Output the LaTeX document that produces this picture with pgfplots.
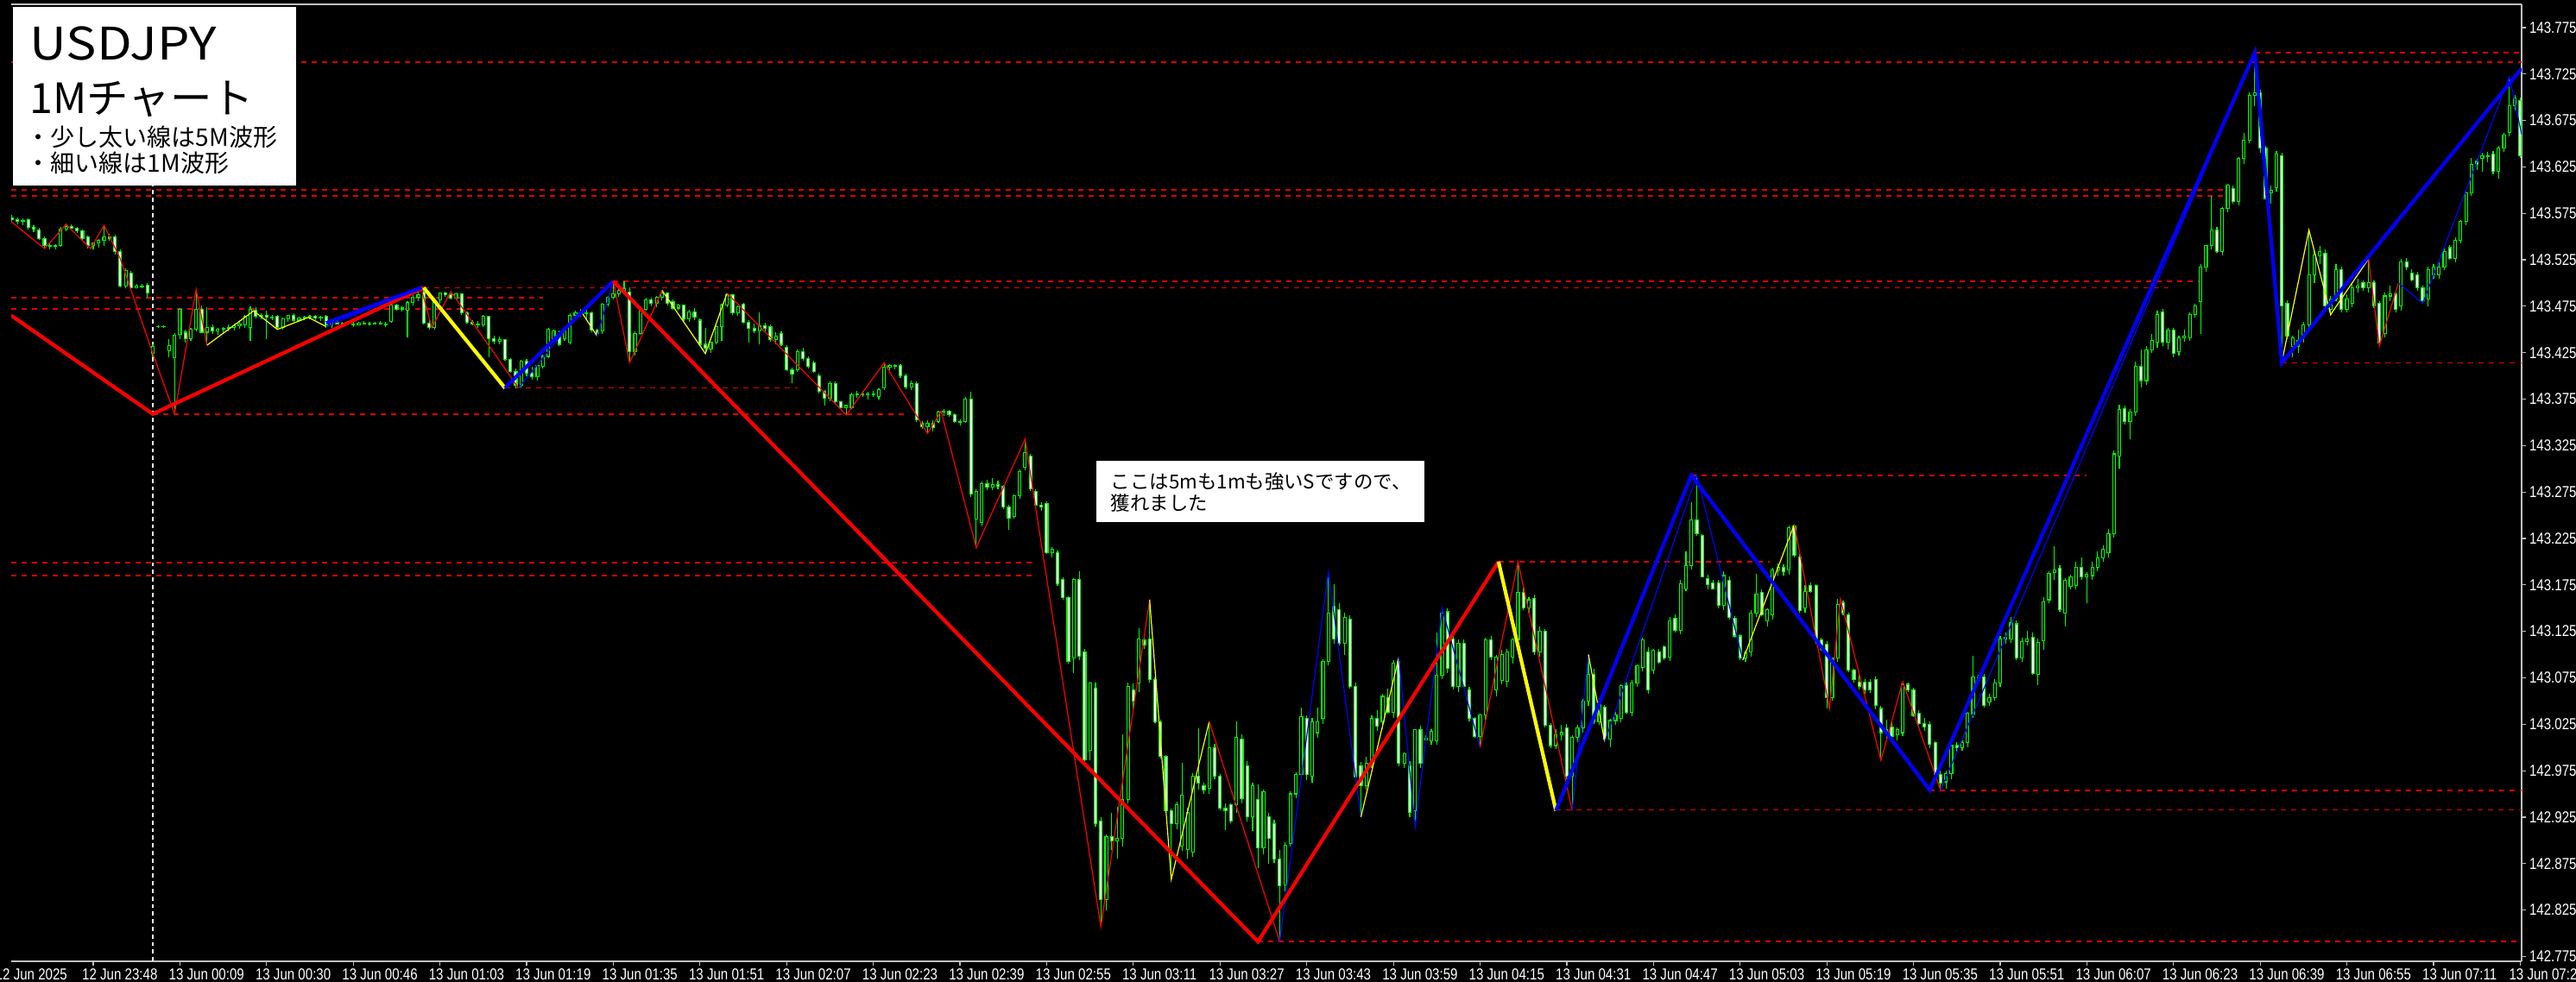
\documentclass[border=0pt]{standalone}
\usepackage{fontspec}
\usepackage{pgfplots}
\usepackage{pgfplotstable}
\pgfplotsset{compat=1.18}
\newfontfamily\mt[FakeStretch=0.82]{Liberation Sans}
\newfontfamily\jp{Noto Sans CJK JP}
\newfontfamily\jpwide[FakeStretch=1.14]{Noto Sans CJK JP}
\definecolor{mtgreen}{RGB}{0,255,0}
\definecolor{mtred}{RGB}{255,0,0}
\definecolor{mtdash}{RGB}{225,0,0}
\definecolor{mtblue}{RGB}{0,0,255}
\definecolor{mtyellow}{RGB}{255,255,0}
\definecolor{mtgray}{RGB}{192,192,192}
\pgfplotstableread{
i o h l c
-16 143.568 143.572 143.565 143.570
-15 143.570 143.573 143.566 143.568
-14 143.568 143.571 143.563 143.566
-13 143.566 143.570 143.562 143.567
-12 143.568 143.570 143.558 143.560
-11 143.560 143.562 143.555 143.558
-10 143.557 143.559 143.546 143.548
-9 143.548 143.550 143.537 143.540
-8 143.540 143.543 143.536 143.539
-7 143.539 143.542 143.536 143.540
-6 143.540 143.560 143.539 143.558
-5 143.558 143.564 143.556 143.561
-4 143.561 143.563 143.557 143.559
-3 143.559 143.560 143.554 143.556
-2 143.556 143.558 143.546 143.548
-1 143.550 143.551 143.537 143.540
0 143.540 143.544 143.536 143.543
1 143.543 143.547 143.538 143.546
2 143.546 143.562 143.540 143.550
3 143.550 143.553 143.545 143.548
4 143.550 143.552 143.531 143.534
5 143.534 143.536 143.495 143.497
6 143.497 143.516 143.494 143.513
7 143.511 143.513 143.493 143.495
8 143.495 143.499 143.494 143.497
9 143.497 143.499 143.494 143.496
10 143.498 143.500 143.484 143.489
11 143.424 143.434 143.420 143.432
12 143.453 143.454 143.452 143.453
13 143.453 143.454 143.452 143.453
14 143.427 143.440 143.420 143.433
15 143.420 143.446 143.359 143.444
16 143.445 143.473 143.440 143.472
17 143.447 143.450 143.436 143.440
18 143.440 143.452 143.438 143.450
19 143.450 143.493 143.448 143.472
20 143.472 143.476 143.446 143.447
21 143.447 143.474 143.433 143.452
22 143.452 143.455 143.445 143.448
23 143.448 143.452 143.444 143.450
24 143.450 143.453 143.446 143.451
25 143.451 143.455 143.448 143.452
26 143.452 143.456 143.449 143.454
27 143.454 143.458 143.451 143.456
28 143.455 143.466 143.452 143.464
29 143.452 143.475 143.438 143.472
30 143.471 143.474 143.462 143.464
31 143.464 143.467 143.461 143.465
32 143.465 143.470 143.440 143.463
33 143.463 143.466 143.460 143.462
34 143.464 143.466 143.450 143.452
35 143.452 143.463 143.450 143.461
36 143.461 143.466 143.458 143.465
37 143.465 143.467 143.458 143.460
38 143.460 143.464 143.458 143.462
39 143.462 143.465 143.460 143.463
40 143.463 143.466 143.461 143.464
41 143.464 143.466 143.460 143.462
42 143.462 143.465 143.459 143.463
43 143.464 143.466 143.452 143.455
44 143.455 143.460 143.452 143.458
45 143.458 143.460 143.455 143.456
46 143.456 143.458 143.454 143.457
47 143.457 143.459 143.455 143.456
48 143.456 143.458 143.453 143.455
49 143.455 143.458 143.454 143.457
50 143.457 143.459 143.455 143.456
51 143.456 143.458 143.454 143.456
52 143.456 143.458 143.455 143.457
53 143.457 143.459 143.455 143.456
54 143.456 143.458 143.453 143.455
55 143.459 143.478 143.457 143.476
56 143.476 143.478 143.470 143.472
57 143.472 143.475 143.469 143.473
58 143.471 143.480 143.441 143.479
59 143.479 143.487 143.476 143.485
60 143.485 143.495 143.480 143.487
61 143.490 143.494 143.455 143.457
62 143.457 143.460 143.450 143.452
63 143.452 143.484 143.450 143.482
64 143.482 143.490 143.478 143.489
65 143.489 143.491 143.485 143.487
66 143.487 143.489 143.482 143.484
67 143.484 143.490 143.482 143.488
68 143.488 143.489 143.466 143.468
69 143.468 143.469 143.456 143.458
70 143.458 143.460 143.454 143.456
71 143.456 143.459 143.452 143.455
72 143.455 143.466 143.453 143.464
73 143.464 143.465 143.420 143.440
74 143.440 143.443 143.434 143.437
75 143.437 143.442 143.434 143.439
76 143.439 143.440 143.416 143.418
77 143.418 143.419 143.403 143.405
78 143.405 143.408 143.387 143.390
79 143.390 143.417 143.388 143.416
80 143.416 143.418 143.400 143.403
81 143.403 143.410 143.396 143.399
82 143.399 143.413 143.395 143.411
83 143.410 143.423 143.408 143.421
84 143.421 143.452 143.419 143.450
85 143.440 143.450 143.437 143.448
86 143.446 143.449 143.432 143.434
87 143.440 143.450 143.438 143.448
88 143.436 143.467 143.434 143.465
89 143.465 143.470 143.460 143.468
90 143.468 143.472 143.464 143.467
91 143.467 143.471 143.460 143.468
92 143.468 143.469 143.447 143.449
93 143.449 143.451 143.443 143.446
94 143.448 143.479 143.445 143.477
95 143.477 143.486 143.475 143.485
96 143.485 143.502 143.482 143.488
97 143.488 143.494 143.485 143.492
98 143.492 143.502 143.489 143.494
99 143.490 143.495 143.414 143.426
100 143.426 143.448 143.422 143.446
101 143.446 143.474 143.444 143.472
102 143.472 143.484 143.470 143.482
103 143.482 143.484 143.475 143.478
104 143.478 143.486 143.474 143.485
105 143.485 143.492 143.481 143.489
106 143.489 143.490 143.476 143.478
107 143.480 143.482 143.471 143.473
108 143.473 143.478 143.470 143.476
109 143.476 143.477 143.459 143.461
110 143.461 143.471 143.458 143.469
111 143.469 143.473 143.460 143.463
112 143.460 143.462 143.432 143.434
113 143.434 143.452 143.424 143.430
114 143.429 143.437 143.425 143.436
115 143.436 143.455 143.434 143.453
116 143.453 143.478 143.438 143.476
117 143.476 143.489 143.474 143.487
118 143.487 143.488 143.466 143.468
119 143.468 143.476 143.465 143.474
120 143.477 143.479 143.456 143.458
121 143.458 143.460 143.436 143.451
122 143.451 143.456 143.446 143.448
123 143.448 143.468 143.434 143.454
124 143.454 143.457 143.448 143.451
125 143.453 143.455 143.437 143.439
126 143.439 143.447 143.434 143.443
127 143.446 143.448 143.432 143.434
128 143.431 143.433 143.405 143.407
129 143.407 143.409 143.392 143.402
130 143.407 143.428 143.404 143.426
131 143.426 143.430 143.416 143.419
132 143.419 143.421 143.408 143.410
133 143.414 143.416 143.403 143.405
134 143.400 143.402 143.381 143.383
135 143.383 143.385 143.368 143.376
136 143.376 143.394 143.373 143.392
137 143.392 143.394 143.370 143.372
138 143.372 143.373 143.365 143.366
139 143.366 143.369 143.358 143.368
140 143.366 143.382 143.364 143.380
141 143.380 143.384 143.376 143.381
142 143.381 143.384 143.377 143.380
143 143.380 143.383 143.375 143.381
144 143.381 143.384 143.377 143.380
145 143.378 143.387 143.375 143.385
146 143.387 143.414 143.385 143.409
147 143.409 143.413 143.406 143.411
148 143.411 143.413 143.407 143.410
149 143.411 143.413 143.398 143.400
150 143.400 143.402 143.386 143.388
151 143.388 143.395 143.385 143.392
152 143.392 143.394 143.350 143.353
153 143.349 143.351 143.343 143.345
154 143.345 143.352 143.338 143.349
155 143.349 143.352 143.340 143.344
156 143.351 143.362 143.349 143.361
157 143.361 143.364 143.357 143.362
158 143.362 143.363 143.356 143.358
159 143.358 143.360 143.349 143.351
160 143.351 143.353 143.347 143.350
161 143.351 143.377 143.349 143.375
162 143.375 143.383 143.270 143.273
163 143.246 143.278 143.215 143.276
164 143.242 143.286 143.238 143.284
165 143.284 143.288 143.277 143.280
166 143.280 143.290 143.277 143.283
167 143.283 143.287 143.278 143.281
168 143.281 143.283 143.257 143.259
169 143.259 143.261 143.234 143.247
170 143.249 143.272 143.246 143.271
171 143.271 143.299 143.268 143.297
172 143.302 143.332 143.298 143.317
173 143.314 143.316 143.276 143.278
174 143.276 143.278 143.259 143.261
175 143.261 143.264 143.255 143.259
176 143.263 143.265 143.208 143.210
177 143.210 143.216 143.205 143.213
178 143.210 143.212 143.174 143.176
179 143.181 143.183 143.159 143.161
180 143.161 143.163 143.090 143.093
181 143.096 143.182 143.080 143.181
182 143.181 143.190 143.094 143.098
183 143.103 143.106 142.985 142.987
184 142.997 143.071 142.986 143.069
185 143.064 143.070 142.915 142.918
186 142.921 142.925 142.807 142.836
187 142.836 142.906 142.825 142.904
188 142.904 142.930 142.890 142.899
189 142.899 142.936 142.880 142.902
190 142.902 143.014 142.893 142.944
191 142.944 143.070 142.940 143.066
192 143.062 143.069 143.041 143.050
193 143.069 143.128 143.060 143.117
194 143.116 143.120 143.106 143.110
195 143.117 143.159 143.070 143.073
196 143.073 143.075 143.026 143.028
197 143.028 143.030 142.988 142.990
198 142.990 142.992 142.930 142.932
199 142.932 142.934 142.858 142.918
200 142.918 142.942 142.912 142.938
201 142.894 142.983 142.889 142.949
202 142.890 142.935 142.880 142.930
203 142.887 142.972 142.882 142.969
204 142.969 143.021 142.955 142.962
205 142.959 142.962 142.950 142.954
206 142.956 143.028 142.950 143.000
207 143.000 143.004 142.966 142.969
208 142.969 142.971 142.932 142.935
209 142.935 142.940 142.911 142.932
210 142.938 142.940 142.918 142.921
211 142.938 143.028 142.930 143.011
212 143.009 143.014 142.940 142.945
213 142.980 142.985 142.920 142.925
214 142.925 142.962 142.910 142.959
215 142.944 142.960 142.870 142.892
216 142.892 142.955 142.885 142.952
217 142.925 142.930 142.875 142.902
218 142.918 142.922 142.876 142.880
219 142.880 142.890 142.791 142.851
220 142.852 142.898 142.845 142.895
221 142.897 142.953 142.893 142.950
222 142.950 142.973 142.945 142.971
223 142.971 143.043 142.968 143.033
224 143.031 143.035 142.965 142.971
225 142.969 143.032 142.962 143.028
226 143.016 143.043 143.010 143.028
227 143.031 143.095 143.025 143.093
228 143.093 143.189 143.088 143.145
229 143.152 143.176 143.112 143.117
230 143.148 143.155 143.110 143.112
231 143.112 143.145 143.100 143.140
232 143.138 143.142 143.063 143.066
233 143.066 143.070 142.965 142.968
234 142.980 142.984 142.925 142.959
235 142.959 142.990 142.955 142.983
236 142.983 143.035 142.978 143.031
237 143.031 143.040 143.018 143.023
238 143.028 143.058 143.020 143.055
239 143.054 143.063 143.036 143.038
240 143.038 143.094 143.032 143.091
241 143.093 143.097 142.980 142.983
242 142.983 142.995 142.978 142.993
243 142.980 142.985 142.925 142.930
244 142.932 143.020 142.914 143.019
245 143.019 143.023 142.978 142.983
246 143.008 143.013 143.004 143.010
247 143.007 143.020 143.003 143.017
248 143.007 143.124 143.003 143.078
249 143.078 143.150 143.074 143.145
250 143.146 143.150 143.080 143.085
251 143.117 143.120 143.062 143.066
252 143.066 143.116 143.060 143.112
253 143.112 143.116 143.063 143.066
254 143.062 143.065 143.028 143.031
255 143.031 143.033 143.010 143.012
256 143.012 143.036 143.000 143.035
257 143.035 143.118 143.030 143.116
258 143.116 143.120 143.094 143.097
259 143.062 143.100 143.055 143.097
260 143.072 143.105 143.068 143.100
261 143.071 143.106 143.065 143.103
262 143.097 143.118 143.090 143.116
263 143.116 143.200 143.108 143.167
264 143.167 143.172 143.148 143.150
265 143.150 143.162 143.145 143.159
266 143.160 143.165 143.100 143.103
267 143.103 143.130 143.098 143.125
268 143.125 143.127 143.022 143.024
269 143.024 143.026 142.999 143.002
270 143.002 143.020 142.998 143.014
271 143.014 143.024 143.008 143.016
272 143.021 143.025 142.966 142.969
273 142.969 143.013 142.932 143.011
274 143.011 143.024 143.006 143.021
275 143.021 143.052 143.016 143.050
276 143.050 143.100 143.045 143.079
277 143.079 143.085 143.025 143.028
278 143.028 143.053 143.024 143.048
279 143.043 143.046 143.006 143.009
280 143.009 143.031 143.000 143.029
281 143.029 143.038 143.024 143.035
282 143.031 143.068 143.027 143.067
283 143.067 143.070 143.036 143.038
284 143.038 143.073 143.034 143.069
285 143.069 143.089 143.065 143.088
286 143.086 143.118 143.082 143.116
287 143.103 143.108 143.058 143.062
288 143.083 143.106 143.079 143.105
289 143.103 143.106 143.090 143.092
290 143.108 143.110 143.094 143.096
291 143.097 143.140 143.093 143.136
292 143.139 143.143 143.124 143.126
293 143.126 143.180 143.122 143.176
294 143.171 143.211 143.168 143.196
295 143.196 143.264 143.192 143.245
296 143.245 143.293 143.228 143.230
297 143.228 143.230 143.183 143.184
298 143.182 143.186 143.170 143.175
299 143.177 143.180 143.170 143.171
300 143.177 143.180 143.150 143.153
301 143.153 143.190 143.148 143.185
302 143.180 143.184 143.138 143.140
303 143.139 143.141 143.118 143.120
304 143.120 143.122 143.094 143.096
305 143.096 143.104 143.092 143.102
306 143.103 143.148 143.098 143.145
307 143.145 143.187 143.140 143.165
308 143.167 143.170 143.141 143.143
309 143.136 143.150 143.130 143.148
310 143.143 143.193 143.138 143.191
311 143.191 143.198 143.185 143.194
312 143.194 143.197 143.185 143.189
313 143.191 143.239 143.186 143.237
314 143.238 143.240 143.205 143.207
315 143.205 143.208 143.145 143.147
316 143.150 143.175 143.145 143.168
317 143.174 143.178 143.166 143.168
318 143.174 143.176 143.112 143.114
319 143.116 143.118 143.104 143.106
320 143.111 143.114 143.042 143.054
321 143.054 143.097 143.050 143.096
322 143.096 143.160 143.092 143.154
323 143.156 143.158 143.142 143.145
324 143.143 143.145 143.081 143.083
325 143.083 143.085 143.070 143.073
326 143.070 143.080 143.062 143.066
327 143.070 143.074 143.058 143.062
328 143.070 143.074 143.059 143.062
329 143.073 143.076 143.041 143.045
330 143.042 143.045 142.986 143.016
331 143.016 143.030 143.010 143.019
332 143.022 143.030 143.009 143.012
333 143.014 143.022 143.008 143.019
334 143.016 143.071 143.012 143.068
335 143.068 143.070 143.060 143.062
336 143.062 143.064 143.033 143.034
337 143.037 143.040 143.024 143.026
338 143.026 143.032 143.018 143.022
339 143.025 143.028 142.999 143.003
340 143.005 143.007 142.970 142.971
341 142.971 142.975 142.954 142.962
342 142.963 142.975 142.956 142.972
343 142.972 143.003 142.966 143.002
344 143.002 143.006 142.995 143.000
345 143.000 143.008 142.996 143.005
346 143.005 143.038 143.000 143.037
347 143.036 143.099 143.032 143.076
348 143.072 143.078 143.068 143.076
349 143.076 143.079 143.043 143.045
350 143.049 143.058 143.045 143.054
351 143.054 143.074 143.050 143.069
352 143.069 143.120 143.065 143.117
353 143.117 143.124 143.112 143.119
354 143.117 143.140 143.113 143.134
355 143.133 143.137 143.094 143.096
356 143.096 143.118 143.092 143.114
357 143.114 143.126 143.110 143.117
358 143.119 143.124 143.078 143.080
359 143.079 143.117 143.067 143.113
360 143.115 143.162 143.105 143.157
361 143.159 143.190 143.155 143.187
362 143.188 143.217 143.180 143.191
363 143.193 143.196 143.146 143.148
364 143.145 143.182 143.130 143.180
365 143.173 143.186 143.170 143.184
366 143.174 143.200 143.170 143.194
367 143.194 143.205 143.180 143.184
368 143.184 143.189 143.155 143.186
369 143.185 143.200 143.180 143.194
370 143.194 143.211 143.190 143.204
371 143.204 143.218 143.200 143.213
372 143.210 143.235 143.205 143.230
373 143.230 143.320 143.226 143.316
374 143.314 143.369 143.300 143.364
375 143.365 143.368 143.348 143.351
376 143.351 143.364 143.332 143.361
377 143.361 143.415 143.357 143.410
378 143.410 143.428 143.388 143.395
379 143.395 143.432 143.390 143.428
380 143.428 143.445 143.425 143.438
381 143.436 143.470 143.430 143.466
382 143.469 143.472 143.432 143.436
383 143.436 143.452 143.428 143.449
384 143.449 143.452 143.420 143.424
385 143.426 143.443 143.422 143.441
386 143.441 143.450 143.437 143.443
387 143.441 143.468 143.438 143.466
388 143.466 143.478 143.463 143.475
389 143.480 143.520 143.445 143.517
390 143.517 143.541 143.512 143.540
391 143.540 143.594 143.536 143.557
392 143.557 143.560 143.532 143.534
393 143.534 143.582 143.530 143.580
394 143.580 143.607 143.576 143.605
395 143.602 143.605 143.585 143.588
396 143.588 143.636 143.584 143.634
397 143.634 143.662 143.628 143.654
398 143.654 143.705 143.650 143.702
399 143.702 143.748 143.690 143.705
400 143.705 143.708 143.640 143.645
401 143.645 143.648 143.590 143.591
402 143.597 143.605 143.585 143.600
403 143.603 143.642 143.598 143.639
404 143.637 143.640 143.415 143.475
405 143.478 143.481 143.440 143.443
406 143.432 143.443 143.420 143.441
407 143.432 143.450 143.425 143.438
408 143.441 143.458 143.436 143.455
409 143.455 143.557 143.450 143.509
410 143.509 143.534 143.500 143.530
411 143.529 143.540 143.520 143.534
412 143.532 143.536 143.470 143.475
413 143.472 143.486 143.465 143.483
414 143.483 143.520 143.480 143.514
415 143.514 143.518 143.468 143.472
416 143.472 143.488 143.468 143.483
417 143.478 143.500 143.474 143.495
418 143.495 143.505 143.490 143.497
419 143.500 143.503 143.492 143.495
420 143.495 143.526 143.490 143.500
421 143.500 143.503 143.473 143.475
422 143.478 143.480 143.432 143.435
423 143.446 143.490 143.441 143.486
424 143.486 143.497 143.480 143.488
425 143.488 143.490 143.468 143.472
426 143.475 143.526 143.470 143.523
427 143.523 143.527 143.514 143.517
428 143.511 143.515 143.502 143.503
429 143.509 143.512 143.492 143.495
430 143.495 143.497 143.478 143.481
431 143.483 143.518 143.475 143.514
432 143.509 143.520 143.505 143.517
433 143.509 143.522 143.505 143.517
434 143.517 143.537 143.514 143.534
435 143.538 143.541 143.525 143.526
436 143.526 143.549 143.522 143.546
437 143.546 143.568 143.543 143.566
438 143.566 143.600 143.562 143.597
439 143.597 143.635 143.594 143.628
440 143.631 143.634 143.622 143.628
441 143.634 143.640 143.620 143.637
442 143.637 143.641 143.630 143.636
443 143.639 143.642 143.617 143.620
444 143.620 143.648 143.612 143.645
445 143.645 143.662 143.641 143.659
446 143.662 143.722 143.658 143.691
447 143.691 143.702 143.686 143.699
448 143.696 143.700 143.635 143.637
}\candles
% build one jump-separated path per candle part from the table rows
\gdef\wickpath{}\gdef\bodypath{}\gdef\bearpath{}\gdef\bullpath{}
\pgfplotstablecreatecol[create col/assign/.code={%
  \edef\cI{\thisrow{i}}\edef\cO{\thisrow{o}}\edef\cH{\thisrow{h}}\edef\cL{\thisrow{l}}\edef\cC{\thisrow{c}}%
  \xdef\wickpath{\wickpath (\cI,\cL) (\cI,\cH) (\cI,nan) }%
  \pgfmathsetmacro\bLo{min(\cO,\cC)-0.0005}%
  \pgfmathsetmacro\bHi{max(\cO,\cC)+0.0005}%
  \xdef\bodypath{\bodypath (\cI,\bLo) (\cI,\bHi) (\cI,nan) }%
  \pgfmathsetmacro\iLo{min(\cO,\cC)+0.0005}%
  \pgfmathsetmacro\iHi{max(\cO,\cC)-0.0005}%
  \pgfmathtruncatemacro\isBear{(\cO-\cC)>0.0012}%
  \pgfmathtruncatemacro\isBull{(\cC-\cO)>0.0012}%
  \ifnum\isBear=1 \xdef\bearpath{\bearpath (\cI,\iLo) (\cI,\iHi) (\cI,nan) }\fi
  \ifnum\isBull=1 \xdef\bullpath{\bullpath (\cI,\iLo) (\cI,\iHi) (\cI,nan) }\fi
  \pgfkeyssetvalue{/pgfplots/table/create col/next content}{0}%
}]{dummy}\candles
\begin{document}
\begin{tikzpicture}
\useasboundingbox (0,0) rectangle (746bp,284.5bp);
\fill[black] (0,0) rectangle (746bp,284.5bp);
\begin{axis}[at={(3.25bp,6bp)}, anchor=south west, scale only axis,
 width=727bp, height=277.25bp,
 xmin=-15.14, xmax=448.26, ymin=142.7698, ymax=143.800,
 axis x line*=bottom, axis y line*=right,
 axis line style={-, draw=mtgray, line width=0.45bp},
 tick align=outside, major tick length=1.25bp,
 tick style={draw=mtgray, line width=0.3bp},
 xtick={0,16,...,448},
 xticklabels={12 Jun 23:48,13 Jun 00:09,13 Jun 00:30,13 Jun 00:46,13 Jun 01:03,13 Jun 01:19,13 Jun 01:35,13 Jun 01:51,13 Jun 02:07,13 Jun 02:23,13 Jun 02:39,13 Jun 02:55,13 Jun 03:11,13 Jun 03:27,13 Jun 03:43,13 Jun 03:59,13 Jun 04:15,13 Jun 04:31,13 Jun 04:47,13 Jun 05:03,13 Jun 05:19,13 Jun 05:35,13 Jun 05:51,13 Jun 06:07,13 Jun 06:23,13 Jun 06:39,13 Jun 06:55,13 Jun 07:11,13 Jun 07:27},
 ytick={142.775,142.825,142.875,142.925,142.975,143.025,143.075,143.125,143.175,143.225,143.275,143.325,143.375,143.425,143.475,143.525,143.575,143.625,143.675,143.725,143.775},
 yticklabels={142.775,142.825,142.875,142.925,142.975,143.025,143.075,143.125,143.175,143.225,143.275,143.325,143.375,143.425,143.475,143.525,143.575,143.625,143.675,143.725,143.775},
 ticklabel style={font=\mt\fontsize{4.6bp}{5bp}\selectfont, text=white},
 xticklabel style={anchor=north west, xshift=-4bp, inner sep=0.6bp},
 yticklabel style={anchor=west, inner sep=0.8bp},
 unbounded coords=jump,
 clip=true]
% dashed levels
\pgfplotsset{lvl/.style={mtdash, line width=0.4bp, dash pattern=on 1.5bp off 1.5bp, forget plot}}
\addplot[lvl] coordinates {(399,143.748) (448.26,143.748)};
\addplot[lvl] coordinates {(-15.14,143.7375) (448.26,143.7375)};
\addplot[lvl] coordinates {(-15.14,143.600) (393.8,143.600)};
\addplot[lvl] coordinates {(-15.14,143.594) (393.8,143.594)};
\addplot[lvl] coordinates {(-15.14,143.484) (83,143.484)};
\addplot[lvl] coordinates {(-15.14,143.472) (83,143.472)};
\addplot[lvl] coordinates {(61,143.495) (383,143.495)};
\addplot[lvl] coordinates {(96,143.502) (389,143.502)};
\addplot[lvl] coordinates {(76,143.387) (130,143.387)};
\addplot[lvl] coordinates {(11,143.359) (150,143.359)};
\addplot[lvl] coordinates {(-15.14,143.199) (174,143.199)};
\addplot[lvl] coordinates {(-15.14,143.185) (174,143.185)};
\addplot[lvl] coordinates {(259.4,143.200) (309.5,143.200)};
\addplot[lvl] coordinates {(295,143.293) (368,143.293)};
\addplot[lvl] coordinates {(404,143.414) (448.26,143.414)};
\addplot[lvl] coordinates {(339,142.954) (448.26,142.954)};
\addplot[lvl] coordinates {(270,142.933) (448.26,142.933)};
\addplot[lvl] coordinates {(215,142.791) (448.26,142.791)};
% day separator
\addplot[white, line width=0.3bp, dash pattern=on 1.2bp off 1bp, forget plot] coordinates {(11,142.7698) (11,143.800)};
% candles
\edef\plotcmd{\noexpand\addplot[mtgreen, line width=0.28bp, line cap=butt, forget plot] coordinates {\wickpath};}\plotcmd
\edef\plotcmd{\noexpand\addplot[mtgreen, line width=1.05bp, line cap=butt, forget plot] coordinates {\bodypath};}\plotcmd
\edef\plotcmd{\noexpand\addplot[white, line width=0.5bp, line cap=butt, forget plot] coordinates {\bearpath};}\plotcmd
\edef\plotcmd{\noexpand\addplot[black, line width=0.5bp, line cap=butt, forget plot] coordinates {\bullpath};}\plotcmd
% thin 1M zigzag
\pgfplotsset{thin1/.style={line width=0.3bp, forget plot}}
\addplot[thin1, mtred] coordinates {(-15.14,143.566) (-9,143.537) (-5,143.563) (-0.5,143.537) (2,143.562) (5,143.526) (11,143.424) (15,143.359) (19,143.493) (21,143.433)};
\addplot[thin1, mtyellow] coordinates {(21,143.433) (29.6,143.470) (34,143.450) (39.7,143.463) (43,143.453)};
\addplot[thin1, mtblue] coordinates {(43,143.453) (60.5,143.495)};
\addplot[thin1, mtred] coordinates {(60.5,143.495) (62.5,143.452) (66,143.491) (78.5,143.387)};
\addplot[thin1, mtblue] coordinates {(78.5,143.387) (90,143.470)};
\addplot[thin1, mtyellow] coordinates {(90,143.470) (93,143.443)};
\addplot[thin1, mtblue] coordinates {(93,143.443) (96,143.502)};
\addplot[thin1, mtred] coordinates {(96,143.502) (99,143.414) (105,143.492)};
\addplot[thin1, mtyellow] coordinates {(105,143.492) (113,143.424) (117,143.489)};
\addplot[thin1, mtred] coordinates {(117,143.489) (139,143.358) (146,143.414) (154,143.338) (156.5,143.362) (163,143.215) (172,143.332) (186,142.807) (195,143.159)};
\addplot[thin1, mtyellow] coordinates {(195,143.159) (199,142.858) (206,143.028)};
\addplot[thin1, mtred] coordinates {(206,143.028) (219,142.791)};
\addplot[thin1, mtblue] coordinates {(219,142.791) (228,143.189) (234,142.925)};
\addplot[thin1, mtyellow] coordinates {(234,142.925) (241,143.097)};
\addplot[thin1, mtblue] coordinates {(241,143.097) (244,142.914) (249,143.150) (256,143.000)};
\addplot[thin1, mtred] coordinates {(256,143.000) (263,143.200) (273,142.932)};
\addplot[thin1, mtblue] coordinates {(273,142.932) (276,143.100)};
\addplot[thin1, mtyellow] coordinates {(276,143.100) (279,143.006)};
\addplot[thin1, mtblue] coordinates {(279,143.006) (296,143.293) (304.5,143.094)};
\addplot[thin1, mtyellow] coordinates {(304.5,143.094) (314,143.240)};
\addplot[thin1, mtred] coordinates {(314,143.240) (320.5,143.042) (322.5,143.160) (330,142.986) (334,143.071) (341,142.954)};
\addplot[thin1, mtblue] coordinates {(341,142.954) (399,143.748) (404,143.415)};
\addplot[thin1, mtyellow] coordinates {(404,143.415) (409,143.557) (413,143.466) (420,143.526)};
\addplot[thin1, mtred] coordinates {(420,143.526) (422,143.432) (425.5,143.500)};
\addplot[thin1, mtblue] coordinates {(425.5,143.500) (430,143.478) (446,143.722) (448.26,143.660)};
% thick 5M zigzag
\pgfplotsset{thick5/.style={line width=1.05bp, forget plot}}
\addplot[thick5, mtred] coordinates {(-15.14,143.465) (11,143.359) (61,143.495)};
\addplot[thick5, mtblue] coordinates {(43,143.457) (60.6,143.495)};
\addplot[thick5, mtyellow] coordinates {(61,143.495) (76,143.387)};
\addplot[thick5, mtblue] coordinates {(76,143.387) (96,143.502)};
\addplot[thick5, mtred] coordinates {(96,143.502) (215,142.791) (259.4,143.200)};
\addplot[thick5, mtyellow] coordinates {(259.4,143.200) (270,142.932)};
\addplot[thick5, mtblue] coordinates {(270,142.932) (295,143.293) (339,142.954) (399,143.748) (404,143.414) (448.26,143.731)};
\end{axis}
\draw[mtgray, line width=0.45bp] (3.25bp,283.25bp) -- (730.25bp,283.25bp);
\node[anchor=north west, inner sep=0.6bp, text=white, font=\mt\fontsize{4.6bp}{5bp}\selectfont] at (-2.1bp,4.75bp) {12 Jun 2025};
% title box
\fill[white] (3.75bp,282.5bp) rectangle (85.75bp,230.75bp);
\node[anchor=base west, inner sep=0] at (8.5bp,267bp) {\jpwide\fontsize{13bp}{13bp}\selectfont USDJPY};
\node[anchor=base west, inner sep=0] at (8.5bp,251.5bp) {\jp\fontsize{12.1bp}{13bp}\selectfont 1Mチャート};
\node[anchor=base west, inner sep=0] at (7.5bp,242bp) {\jp\fontsize{7bp}{8bp}\selectfont ・少し太い線は5M波形};
\node[anchor=base west, inner sep=0] at (7.5bp,234.5bp) {\jp\fontsize{7bp}{8bp}\selectfont ・細い線は1M波形};
% annotation
\fill[white] (317.5bp,151bp) rectangle (412.5bp,133.25bp);
\node[anchor=base west, inner sep=0] at (321.5bp,142.75bp) {\jp\fontsize{5.6bp}{6bp}\selectfont ここは5mも1mも強いSですので、};
\node[anchor=base west, inner sep=0] at (321.5bp,136.5bp) {\jp\fontsize{5.6bp}{6bp}\selectfont 獲れました};
\end{tikzpicture}
\end{document}
